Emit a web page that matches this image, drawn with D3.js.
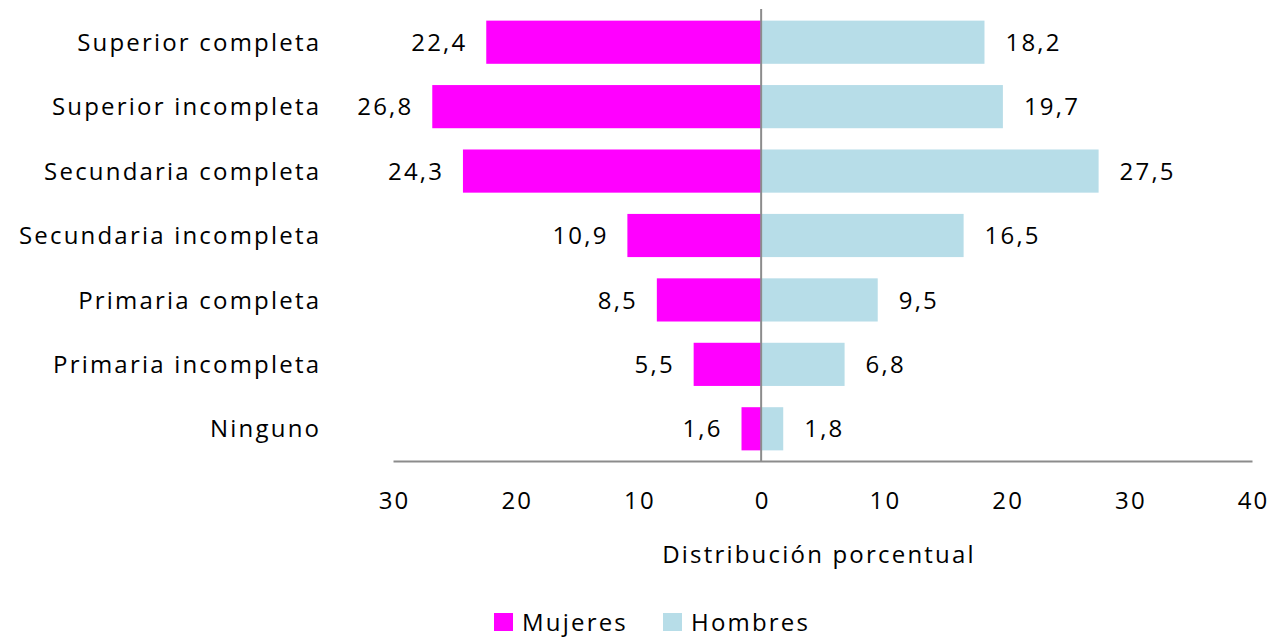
<!DOCTYPE html>
<html>
<head>
<meta charset="utf-8">
<script src="https://cdn.jsdelivr.net/npm/d3@7"></script>
<style>
  html, body { margin: 0; padding: 0; background: #ffffff; }
  svg text { font-family: "Open Sans", Lato, sans-serif; fill: #000; }
</style>
</head>
<body>
<svg id="chart" width="1275" height="639"></svg>
<script>
// Education level distribution by sex (percent)
const categories = [
  "Superior completa",
  "Superior incompleta",
  "Secundaria completa",
  "Secundaria incompleta",
  "Primaria completa",
  "Primaria incompleta",
  "Ninguno"
];
const mujeres = [22.4, 26.8, 24.3, 10.9, 8.5, 5.5, 1.6];
const hombres = [18.2, 19.7, 27.5, 16.5, 9.5, 6.8, 1.8];
const tickValues = [-30, -20, -10, 0, 10, 20, 30, 40];
const seriesNames = ["Mujeres", "Hombres"];
const seriesColors = ["#ff00ff", "#b7dde8"];

const svg = d3.select("#chart");
const fontSize = 24;
const ls = 2.2;
const spacing = ls + "px";

const x = d3.scaleLinear().domain([-30, 40]).range([393, 1252]);
const y = d3.scaleBand().domain(categories).range([10, 461])
  .paddingInner(0.33).paddingOuter(0.165);

const fmt = v => d3.format(".1f")(Math.abs(v)).replace(".", ",");

// Mujeres bars extend to the left of zero
svg.append("g").selectAll("rect")
  .data(categories.map((c, i) => ({ c, v: mujeres[i] })))
  .join("rect")
  .attr("x", d => x(-d.v))
  .attr("y", d => y(d.c))
  .attr("width", d => x(0) - x(-d.v))
  .attr("height", y.bandwidth())
  .attr("fill", seriesColors[0]);

// Hombres bars extend to the right of zero
svg.append("g").selectAll("rect")
  .data(categories.map((c, i) => ({ c, v: hombres[i] })))
  .join("rect")
  .attr("x", x(0))
  .attr("y", d => y(d.c))
  .attr("width", d => x(d.v) - x(0))
  .attr("height", y.bandwidth())
  .attr("fill", seriesColors[1]);

// Value labels
svg.append("g").selectAll("text")
  .data(categories.map((c, i) => ({ c, v: mujeres[i] })))
  .join("text")
  .attr("x", d => x(-d.v) - 21 + ls)
  .attr("y", d => y(d.c) + y.bandwidth() / 2)
  .attr("dy", "0.36em")
  .attr("text-anchor", "end")
  .style("font-size", fontSize + "px")
  .style("letter-spacing", spacing)
  .text(d => fmt(d.v));

svg.append("g").selectAll("text")
  .data(categories.map((c, i) => ({ c, v: hombres[i] })))
  .join("text")
  .attr("x", d => x(d.v) + 21)
  .attr("y", d => y(d.c) + y.bandwidth() / 2)
  .attr("dy", "0.36em")
  .attr("text-anchor", "start")
  .style("font-size", fontSize + "px")
  .style("letter-spacing", spacing)
  .text(d => fmt(d.v));

// Category labels
svg.append("g").selectAll("text")
  .data(categories)
  .join("text")
  .attr("x", 319 + ls)
  .attr("y", d => y(d) + y.bandwidth() / 2)
  .attr("dy", "0.36em")
  .attr("text-anchor", "end")
  .style("font-size", fontSize + "px")
  .style("letter-spacing", spacing)
  .text(d => d);

// Zero line
svg.append("line")
  .attr("x1", x(0)).attr("x2", x(0))
  .attr("y1", 9).attr("y2", 461)
  .attr("stroke", "#8c8c8c").attr("stroke-width", 2);

// Bottom axis
const axis = d3.axisBottom(x).tickValues(tickValues).tickSize(0).tickPadding(0)
  .tickFormat(v => String(Math.abs(v)));
const gAxis = svg.append("g").attr("transform", "translate(0,461)").call(axis);
gAxis.select(".domain").attr("stroke", "#8c8c8c").attr("stroke-width", 2);
gAxis.selectAll("text")
  .attr("y", 48).attr("dy", 0)
  .attr("dx", ls / 2)
  .style("font-family", "'Open Sans', Lato, sans-serif")
  .style("font-size", fontSize + "px")
  .style("letter-spacing", spacing)
  .attr("fill", "#000");

// Axis title
svg.append("text")
  .attr("x", 819).attr("y", 563)
  .attr("text-anchor", "middle")
  .style("font-size", fontSize + "px")
  .style("letter-spacing", spacing)
  .text("Distribución porcentual");

// Legend
const legendX = [494, 663];
const legend = svg.append("g").selectAll("g")
  .data(seriesNames)
  .join("g")
  .attr("transform", (d, i) => `translate(${legendX[i]},613)`);
legend.append("rect")
  .attr("width", 19).attr("height", 18)
  .attr("fill", (d, i) => seriesColors[i]);
legend.append("text")
  .attr("x", 28).attr("y", 18)
  .style("font-size", fontSize + "px")
  .style("letter-spacing", spacing)
  .text(d => d);
</script>
</body>
</html>
